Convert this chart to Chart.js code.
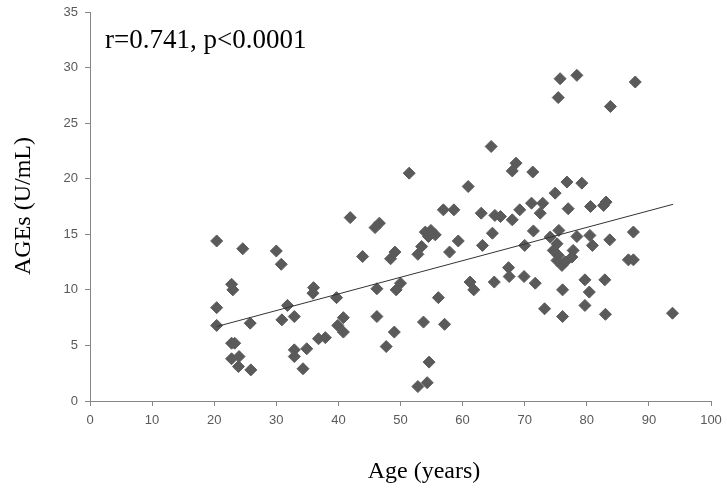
<!DOCTYPE html>
<html>
<head>
<meta charset="utf-8">
<script src="https://cdn.jsdelivr.net/npm/chart.js@4.4.0/dist/chart.umd.min.js"></script>
<style>
html,body{margin:0;padding:0;background:#fff;}
#wrap{width:727px;height:495px;}
</style>
</head>
<body>
<div id="wrap"><canvas id="c" width="727" height="495"></canvas></div>
<script>
// Age (years)
const ageYears = [
  20.4, 24.6, 30.0, 30.8, 41.9, 45.9, 46.6, 43.9, 48.4, 49.1,
  22.8, 23.0, 20.4, 20.4, 25.8, 31.8, 30.9, 32.9, 36.0, 35.9,
  39.7, 40.8, 39.9, 40.8, 46.2, 49.3, 50.0, 46.2, 49.0, 47.7,
  22.8, 23.3, 22.8, 24.0, 23.9, 25.9, 32.9, 32.9, 34.9, 34.3,
  36.8, 37.9,
  51.4, 64.6, 68.6, 68.0, 71.3, 60.9, 56.9, 58.6, 63.0, 65.2,
  66.1, 68.0, 69.2, 54.0, 54.9, 55.6, 54.5, 53.4, 52.8, 59.3,
  57.9, 64.8, 63.2, 70.0, 67.4, 67.5, 65.1, 61.2, 61.8, 56.1,
  53.7, 57.1, 54.6, 52.8, 54.3, 69.9,
  75.7, 78.4, 75.4, 87.8, 83.8, 76.8, 79.2, 74.9, 82.7, 83.1,
  71.1, 72.9, 72.5, 77.0, 80.6, 71.4, 75.5, 74.1, 75.2, 74.6,
  75.4, 75.2, 76.0, 78.4, 80.5, 80.9, 77.8, 77.6, 76.5, 83.7,
  87.5, 86.7, 87.5, 71.7, 79.7, 82.9, 76.1, 80.4, 73.2, 76.1,
  79.7, 83.0, 93.8
];
// AGEs (U/mL)
const agesValues = [
  14.4, 13.7, 13.5, 12.3, 16.5, 15.6, 16.0, 13.0, 12.8, 13.4,
  10.5, 10.0, 8.4, 6.8, 7.0, 8.6, 7.3, 7.6, 10.2, 9.7,
  9.3, 7.5, 6.8, 6.2, 10.1, 10.0, 10.6, 7.6, 6.2, 4.9,
  5.2, 5.2, 3.8, 4.0, 3.1, 2.8, 4.6, 4.0, 4.7, 2.9,
  5.6, 5.7,
  20.5, 22.9, 21.4, 20.7, 20.6, 19.3, 17.2, 17.2, 16.9, 16.7,
  16.6, 16.3, 17.2, 15.2, 15.35, 14.95, 14.8, 13.9, 13.2, 14.4,
  13.4, 15.1, 14.0, 14.0, 12.0, 11.2, 10.7, 10.7, 10.0, 9.3,
  7.1, 6.9, 3.5, 1.3, 1.65, 11.2,
  29.0, 29.3, 27.3, 28.7, 26.5, 19.7, 19.6, 18.7, 17.6, 17.9,
  17.8, 17.8, 16.9, 17.3, 17.5, 15.3, 15.35, 14.75, 14.15, 13.55,
  13.1, 12.65, 12.2, 14.8, 14.9, 14.0, 13.55, 12.95, 12.5, 14.5,
  15.2, 12.7, 12.7, 10.6, 10.9, 10.9, 10.0, 9.8, 8.3, 7.6,
  8.6, 7.8, 7.9
];
// Linear trend line end points
const trendX = [20.4, 93.9];
const trendY = [6.7, 17.7];

const xTicks = [0, 10, 20, 30, 40, 50, 60, 70, 80, 90, 100];
const yTicks = [0, 5, 10, 15, 20, 25, 30, 35];

const annotationText = 'r=0.741, p<0.0001';
const xTitle = 'Age (years)';
const yTitle = 'AGEs (U/mL)';

const points = ageYears.map((x, i) => ({x: x, y: agesValues[i]}));
const trend = trendX.map((x, i) => ({x: x, y: trendY[i]}));

const textPlugin = {
  id: 'texts',
  afterDraw(chart) {
    const ctx = chart.ctx;
    ctx.save();
    ctx.fillStyle = '#000';
    ctx.font = '27px "Liberation Serif", "Times New Roman", serif';
    ctx.textAlign = 'left';
    ctx.textBaseline = 'alphabetic';
    ctx.fillText(annotationText, 105, 48);
    ctx.font = '24px "Liberation Serif", "Times New Roman", serif';
    ctx.textAlign = 'center';
    ctx.fillText(xTitle, 424, 478);
    ctx.translate(30, 206);
    ctx.rotate(-Math.PI / 2);
    ctx.fillText(yTitle, 0, 0);
    ctx.restore();
  }
};

const axisColor = '#868686';
const tickFont = {family: '"Liberation Sans", Arial, sans-serif', size: 13};

new Chart(document.getElementById('c'), {
  type: 'scatter',
  data: {
    datasets: [
      {
        data: points,
        pointStyle: 'rectRot',
        pointRadius: 6,
        pointHoverRadius: 6,
        backgroundColor: '#5a5a5a',
        borderColor: '#5a5a5a',
        borderWidth: 1,
        order: 2
      },
      {
        type: 'line',
        data: trend,
        showLine: true,
        pointRadius: 0,
        borderColor: '#333333',
        borderWidth: 1,
        fill: false,
        order: 1
      }
    ]
  },
  options: {
    responsive: false,
    animation: false,
    devicePixelRatio: 1,
    layout: {padding: {top: 12, right: 16, left: 0, bottom: 0}},
    plugins: {legend: {display: false}, tooltip: {enabled: false}},
    scales: {
      x: {
        type: 'linear',
        min: 0, max: 100,
        afterBuildTicks: s => { s.ticks = xTicks.map(v => ({value: v})); },
        afterFit: s => { s.height = 94; s.paddingLeft = 0; s.paddingRight = 0; },
        border: {display: true, color: axisColor, width: 1},
        grid: {display: true, drawOnChartArea: false, drawTicks: true, tickLength: 5, color: axisColor},
        ticks: {color: '#595959', font: tickFont, padding: 7, maxRotation: 0}
      },
      y: {
        type: 'linear',
        min: 0, max: 35,
        afterBuildTicks: s => { s.ticks = yTicks.map(v => ({value: v})); },
        afterFit: s => { s.width = 90; s.paddingTop = 0; s.paddingBottom = 0; },
        border: {display: true, color: axisColor, width: 1},
        grid: {display: true, drawOnChartArea: false, drawTicks: true, tickLength: 5, color: axisColor},
        ticks: {color: '#595959', font: tickFont, padding: 7}
      }
    }
  },
  plugins: [textPlugin]
});
</script>
</body>
</html>
